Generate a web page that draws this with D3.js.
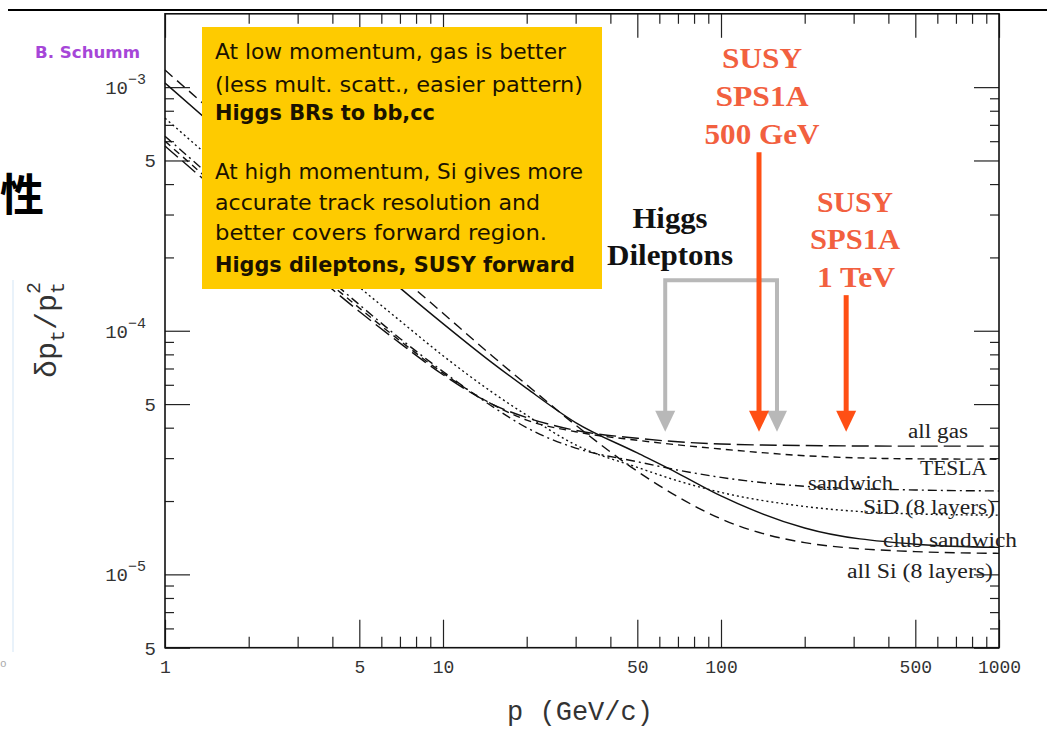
<!DOCTYPE html>
<html>
<head>
<meta charset="utf-8">
<script src="https://cdn.jsdelivr.net/npm/d3@7"></script>
<style>
  body { margin: 0; background: #fff; }
  svg { display: block; }
</style>
</head>
<body>
<svg id="chart" width="1047" height="729"></svg>
<script>
// momentum samples (GeV/c) and dpt/pt^2
const momenta = [1, 2, 3, 5, 7, 10, 15, 20, 30, 50, 70, 100, 200, 500, 1000];
const allGas = [5.73e-4, 2.9e-4, 1.95e-4, 1.2e-4, 8.9e-5, 6.6e-5, 5.0e-5, 4.4e-5, 3.9e-5, 3.62e-5, 3.5e-5, 3.43e-5, 3.38e-5, 3.36e-5, 3.36e-5];
const tesla = [6.0e-4, 3.0e-4, 2.02e-4, 1.24e-4, 9.1e-5, 6.7e-5, 5.0e-5, 4.3e-5, 3.85e-5, 3.55e-5, 3.4e-5, 3.27e-5, 3.07e-5, 2.98e-5, 2.97e-5];
const sandwich = [6.29e-4, 3.15e-4, 2.11e-4, 1.28e-4, 9.3e-5, 6.8e-5, 4.9e-5, 4.0e-5, 3.3e-5, 2.9e-5, 2.68e-5, 2.5e-5, 2.3e-5, 2.22e-5, 2.2e-5];
const sid = [7.46e-4, 3.74e-4, 2.5e-4, 1.51e-4, 1.1e-4, 7.9e-5, 5.6e-5, 4.5e-5, 3.4e-5, 2.75e-5, 2.42e-5, 2.17e-5, 1.9e-5, 1.77e-5, 1.75e-5];
const clubSandwich = [1.04e-3, 5.2e-4, 3.47e-4, 2.1e-4, 1.5e-4, 1.07e-4, 7.4e-5, 5.8e-5, 4.2e-5, 3.15e-5, 2.6e-5, 2.1e-5, 1.55e-5, 1.33e-5, 1.29e-5];
const allSi = [1.175e-3, 5.88e-4, 3.92e-4, 2.35e-4, 1.68e-4, 1.18e-4, 7.9e-5, 6.0e-5, 4.1e-5, 2.65e-5, 2.08e-5, 1.69e-5, 1.35e-5, 1.24e-5, 1.22e-5];

const seriesNames = ["all gas", "TESLA", "sandwich", "SiD (8 layers)", "club sandwich", "all Si (8 layers)"];
const seriesValues = [allGas, tesla, sandwich, sid, clubSandwich, allSi];
const seriesDash = ["17,6", "7,5", "9,4,2,4", "2,3", null, "10,6"];

// axis ticks
const xMajor = [1, 5, 10, 50, 100, 500, 1000];
const xLabels = ["1", "5", "10", "50", "100", "500", "1000"];
const xMinor = [2, 3, 4, 6, 7, 8, 9, 20, 30, 40, 60, 70, 80, 90, 200, 300, 400, 600, 700, 800, 900];
const yMajor = [5e-6, 1e-5, 5e-5, 1e-4, 5e-4, 1e-3];
const yLabelBase = ["5", "10", "5", "10", "5", "10"];
const yLabelExp = ["", "\u22125", "", "\u22124", "", "\u22123"];
const yMinor = [6e-6, 7e-6, 8e-6, 9e-6, 2e-5, 3e-5, 4e-5, 6e-5, 7e-5, 8e-5, 9e-5,
                2e-4, 3e-4, 4e-4, 6e-4, 7e-4, 8e-4, 9e-4];

// physics markers (momentum in GeV/c)
const higgsArrowP = [63, 159];
const susyArrowP = [137, 282];
const susyArrowTop = [5.4e-4, 1.4e-4];
const bracketTop = 1.61e-4;
const arrowTip = 3.85e-5;

const svg = d3.select("#chart");
const x = d3.scaleLog().domain([1, 1000]).range([165, 999]);
const y = d3.scaleLog().domain([5e-6, 2e-3]).range([647.7, 13.8]);

const mono = "'Liberation Mono', 'DejaVu Sans Mono', monospace";
const serif = "'Liberation Serif', 'DejaVu Serif', serif";
const comic = "'Comic Sans MS', 'DejaVu Sans', sans-serif";

// slide rule + left-margin bits
svg.append("line").attr("x1", 8).attr("x2", 1047).attr("y1", 10).attr("y2", 10)
    .attr("stroke", "#000").attr("stroke-width", 2);
svg.append("line").attr("x1", 13).attr("x2", 13).attr("y1", 280).attr("y2", 652)
    .attr("stroke", "#e2eef9").attr("stroke-width", 1.5);
svg.append("text").attr("x", 0).attr("y", 211)
    .attr("font-family", "'Noto Sans CJK SC', sans-serif").attr("font-weight", 700)
    .attr("font-size", 44).attr("fill", "#000").text("性");
svg.append("text").attr("x", 0).attr("y", 667)
    .attr("font-family", mono).attr("font-size", 11).attr("fill", "#aaa").text("o");

svg.append("text").attr("x", 35).attr("y", 58)
    .attr("font-family", comic).attr("font-weight", 700).attr("font-size", 15)
    .attr("textLength", 105).attr("lengthAdjust", "spacingAndGlyphs")
    .attr("fill", "#a646d8").text("B. Schumm");

// axes: ticks point inward on all four sides
function styleAxis(g) {
    g.select(".domain").remove();
    g.selectAll(".tick line").attr("stroke", "#222").attr("stroke-width", 1.2);
}
const bottomY = y.range()[0], topY = y.range()[1];
const leftX = x.range()[0], rightX = x.range()[1];

svg.append("g").attr("transform", `translate(0,${bottomY})`)
    .call(d3.axisBottom(x).tickValues(xMajor).tickSize(-28).tickPadding(13)
        .tickFormat((d, i) => xLabels[i]))
    .call(styleAxis)
    .call(g => g.selectAll("text").attr("font-family", mono).attr("font-size", 18).attr("fill", "#333"));
svg.append("g").attr("transform", `translate(0,${bottomY})`)
    .call(d3.axisBottom(x).tickValues(xMinor).tickSize(-11).tickFormat(""))
    .call(styleAxis);
svg.append("g").attr("transform", `translate(0,${topY})`)
    .call(d3.axisTop(x).tickValues(xMajor).tickSize(-24).tickFormat(""))
    .call(styleAxis);
svg.append("g").attr("transform", `translate(0,${topY})`)
    .call(d3.axisTop(x).tickValues(xMinor).tickSize(-10).tickFormat(""))
    .call(styleAxis);

svg.append("g").attr("transform", `translate(${leftX},0)`)
    .call(d3.axisLeft(y).tickValues(yMajor).tickSize(-25).tickFormat(""))
    .call(styleAxis);
svg.append("g").attr("transform", `translate(${leftX},0)`)
    .call(d3.axisLeft(y).tickValues(yMinor).tickSize(-9).tickFormat(""))
    .call(styleAxis);
svg.append("g").attr("transform", `translate(${rightX},0)`)
    .call(d3.axisRight(y).tickValues(yMajor).tickSize(-25).tickFormat(""))
    .call(styleAxis);
svg.append("g").attr("transform", `translate(${rightX},0)`)
    .call(d3.axisRight(y).tickValues(yMinor).tickSize(-9).tickFormat(""))
    .call(styleAxis);

// y tick labels with superscript exponents
const yLab = svg.append("g").selectAll("text").data(yMajor).join("text")
    .attr("x", (d, i) => yLabelExp[i] ? 146 : 156)
    .attr("y", d => y(d) + 7)
    .attr("text-anchor", "end")
    .attr("font-family", mono).attr("font-size", 19).attr("fill", "#333");
yLab.append("tspan").text((d, i) => yLabelBase[i]);
yLab.filter((d, i) => yLabelExp[i]).append("tspan")
    .attr("dy", -10).attr("font-size", 15)
    .text(d => yLabelExp[yMajor.indexOf(d)]);

// frame
svg.append("rect").attr("x", leftX).attr("y", topY)
    .attr("width", rightX - leftX).attr("height", bottomY - topY)
    .attr("fill", "none").attr("stroke", "#111").attr("stroke-width", 1.6);

// axis titles
svg.append("text").attr("x", 580).attr("y", 720).attr("text-anchor", "middle")
    .attr("font-family", mono).attr("font-size", 27).attr("fill", "#333").text("p (GeV/c)");
const yTitle = svg.append("text").attr("transform", "translate(56,330) rotate(-90)")
    .attr("text-anchor", "middle").attr("font-family", mono).attr("font-size", 30).attr("fill", "#333");
yTitle.append("tspan").text("\u03b4p");
yTitle.append("tspan").attr("dy", 8).attr("font-size", 20).text("t");
yTitle.append("tspan").attr("dy", -8).text("/p");
yTitle.append("tspan").attr("dy", 8).attr("font-size", 20).text("t");
yTitle.append("tspan").attr("dx", -12).attr("dy", -24).attr("font-size", 20).text("2");

// resolution curves
const line = d3.line()
    .x((d, i) => x(momenta[i]))
    .y(d => y(d))
    .curve(d3.curveMonotoneX);

svg.append("g").selectAll("path").data(seriesValues).join("path")
    .attr("d", d => line(d))
    .attr("fill", "none")
    .attr("stroke", "#111")
    .attr("stroke-width", 1.4)
    .attr("stroke-dasharray", (d, i) => seriesDash[i]);

// curve labels at right
const labelPos = [
    { x: 908, y: 438, w: 60 },
    { x: 920, y: 475, w: 67 },
    { x: 808, y: 490, w: 85 },
    { x: 863, y: 514, w: 132 },
    { x: 883, y: 547, w: 134 },
    { x: 847, y: 578, w: 146 }
];
svg.append("g").selectAll("text").data(seriesNames).join("text")
    .attr("x", (d, i) => labelPos[i].x)
    .attr("y", (d, i) => labelPos[i].y)
    .attr("textLength", (d, i) => labelPos[i].w)
    .attr("lengthAdjust", "spacingAndGlyphs")
    .attr("font-family", serif).attr("font-size", 20).attr("fill", "#222")
    .text(d => d);

// yellow note box
svg.append("rect").attr("x", 202).attr("y", 27).attr("width", 400).attr("height", 262)
    .attr("fill", "#fecb00");
const noteLines = [
    { t: "At low momentum, gas is better", b: false, y: 59, w: 351 },
    { t: "(less mult. scatt., easier pattern)", b: false, y: 92, w: 368 },
    { t: "Higgs BRs to bb,cc", b: true, y: 120, w: 220 },
    { t: "At high momentum, Si gives more", b: false, y: 179, w: 368 },
    { t: "accurate track resolution and", b: false, y: 210, w: 325 },
    { t: "better covers forward region.", b: false, y: 240, w: 332 },
    { t: "Higgs dileptons, SUSY forward", b: true, y: 272, w: 360 }
];
svg.append("g").selectAll("text").data(noteLines).join("text")
    .attr("x", 215).attr("y", d => d.y)
    .attr("textLength", d => d.w).attr("lengthAdjust", "spacingAndGlyphs")
    .attr("font-family", comic).attr("font-size", 21)
    .attr("font-weight", d => d.b ? 700 : 400)
    .attr("fill", "#1a1200").text(d => d.t);

// Higgs dilepton bracket (grey)
const grey = "#b8b8b8";
svg.append("path")
    .attr("d", `M${x(higgsArrowP[0])},${y(arrowTip) - 18} V${y(bracketTop)} H${x(higgsArrowP[1])} V${y(arrowTip) - 18}`)
    .attr("fill", "none").attr("stroke", grey).attr("stroke-width", 4);
svg.append("g").selectAll("path").data(higgsArrowP).join("path")
    .attr("d", p => `M${x(p) - 10},${y(arrowTip) - 21} L${x(p) + 10},${y(arrowTip) - 21} L${x(p)},${y(arrowTip)} Z`)
    .attr("fill", grey);

// SUSY arrows (orange)
const orange = "#ff4f14";
svg.append("g").selectAll("line").data(susyArrowP).join("line")
    .attr("x1", p => x(p)).attr("x2", p => x(p))
    .attr("y1", (p, i) => y(susyArrowTop[i])).attr("y2", y(arrowTip) - 18)
    .attr("stroke", orange).attr("stroke-width", 5);
svg.append("g").selectAll("path").data(susyArrowP).join("path")
    .attr("d", p => `M${x(p) - 10},${y(arrowTip) - 21} L${x(p) + 10},${y(arrowTip) - 21} L${x(p)},${y(arrowTip)} Z`)
    .attr("fill", orange);

// annotation text
const susyText = [
    { t: "SUSY", x: 762, y: 68, w: 80 },
    { t: "SPS1A", x: 762, y: 106, w: 93 },
    { t: "500 GeV", x: 762, y: 144, w: 115 },
    { t: "SUSY", x: 855, y: 212, w: 76 },
    { t: "SPS1A", x: 855, y: 249, w: 90 },
    { t: "1 TeV", x: 856, y: 287, w: 78 }
];
svg.append("g").selectAll("text").data(susyText).join("text")
    .attr("x", d => d.x).attr("y", d => d.y).attr("text-anchor", "middle")
    .attr("textLength", d => d.w).attr("lengthAdjust", "spacingAndGlyphs")
    .attr("font-family", serif).attr("font-weight", 700).attr("font-size", 29)
    .attr("fill", "#f2603f").text(d => d.t);

const higgsText = [
    { t: "Higgs", x: 670, y: 228, w: 75 },
    { t: "Dileptons", x: 670, y: 265, w: 126 }
];
svg.append("g").selectAll("text").data(higgsText).join("text")
    .attr("x", d => d.x).attr("y", d => d.y).attr("text-anchor", "middle")
    .attr("textLength", d => d.w).attr("lengthAdjust", "spacingAndGlyphs")
    .attr("font-family", serif).attr("font-weight", 700).attr("font-size", 29)
    .attr("fill", "#111").text(d => d.t);
</script>
</body>
</html>
